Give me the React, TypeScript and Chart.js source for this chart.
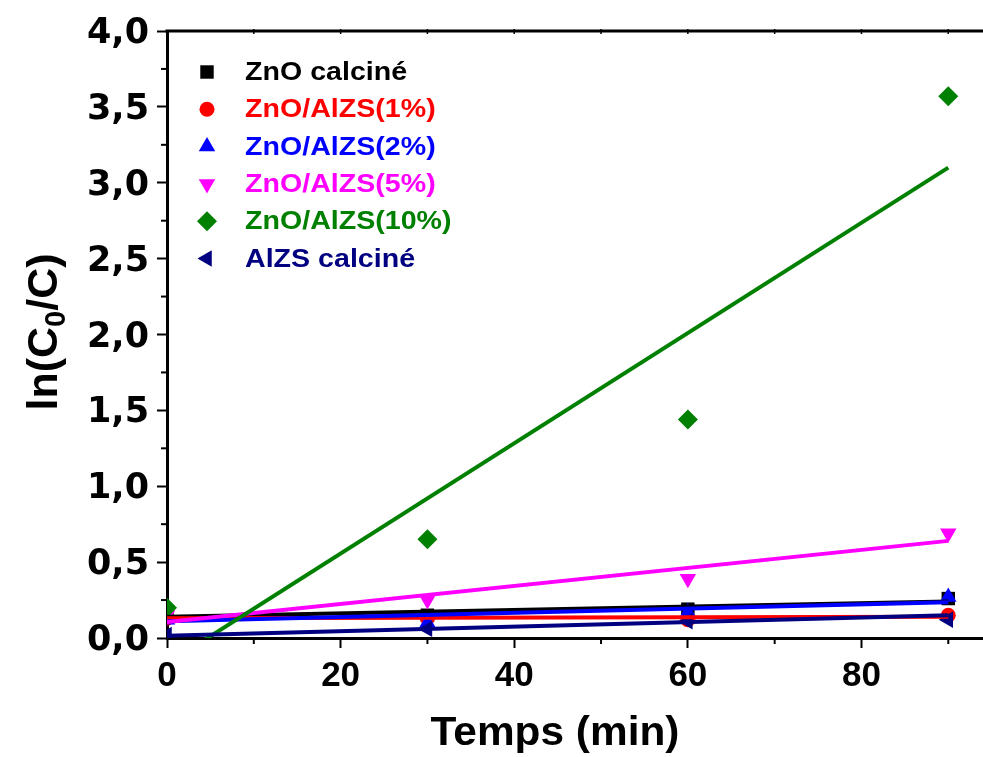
import React, { useEffect, useRef } from 'react';
import { Chart, registerables } from 'chart.js';
import { drawPoint } from 'chart.js/helpers';

Chart.register(...registerables);

// ---- data ----
const times = [0, 30, 60, 90];
const fitTimes = [0, 90];

const seriesLabels = ['ZnO calciné', 'ZnO/AlZS(1%)', 'ZnO/AlZS(2%)', 'ZnO/AlZS(5%)', 'ZnO/AlZS(10%)', 'AlZS calciné'];
const seriesColors = ['#000000', '#FF0000', '#0000FF', '#FF00FF', '#008000', '#000080'];

const znoCalcine = [0.14, 0.15, 0.19, 0.26];
const znoAlzs1 = [0.13, 0.13, 0.12, 0.15];
const znoAlzs2 = [0.12, 0.10, 0.17, 0.27];
const znoAlzs5 = [0.15, 0.25, 0.39, 0.69];
const znoAlzs10 = [0.20, 0.65, 1.44, 3.57];
const alzsCalcine = [0.02, 0.06, 0.11, 0.12];

// fitted straight lines, value at t = 0 and t = 90
const fitZnoCalcine = [0.14, 0.24];
const fitZnoAlzs1 = [0.13, 0.14];
const fitZnoAlzs2 = [0.11, 0.235];
const fitZnoAlzs5 = [0.105, 0.64];
const fitZnoAlzs10 = [-0.17, 3.10];
const fitAlzsCalcine = [0.015, 0.15];

const xTickValues = [0, 20, 40, 60, 80];
const yTickValues = [0, 0.5, 1, 1.5, 2, 2.5, 3, 3.5, 4];

const seriesValues = [znoCalcine, znoAlzs1, znoAlzs2, znoAlzs5, znoAlzs10, alzsCalcine];
const seriesFits = [fitZnoCalcine, fitZnoAlzs1, fitZnoAlzs2, fitZnoAlzs5, fitZnoAlzs10, fitAlzsCalcine];

// marker styles
const markerStyles: any[] = ['rect', 'circle', 'triangle', 'triangle', 'rectRot', 'triangle'];
const markerRotations = [0, 0, 0, 180, 0, 270];
const markerRadius = [9.5, 7.5, 9.5, 9.5, 10, 9.5];
const lineOrders = [6, 5, 4, 3, 2, 1];

const FONT = '"Liberation Sans", Arial, Helvetica, sans-serif';

const decorPlugin = {
  id: 'decor',
  afterDraw(chart: any) {
    const { ctx, chartArea, scales } = chart;
    const x = scales.x;
    const y = scales.y;
    ctx.save();
    ctx.strokeStyle = '#000';
    // minor ticks bottom
    ctx.lineWidth = 2;
    for (let v = 10; v <= x.max; v += 20) {
      const px = x.getPixelForValue(v);
      ctx.beginPath();
      ctx.moveTo(px, chartArea.bottom);
      ctx.lineTo(px, chartArea.bottom + 6);
      ctx.stroke();
    }
    // minor ticks left
    for (let v = 0.25; v < y.max; v += 0.5) {
      const py = y.getPixelForValue(v);
      ctx.beginPath();
      ctx.moveTo(chartArea.left - 6, py);
      ctx.lineTo(chartArea.left, py);
      ctx.stroke();
    }
    // top frame line
    ctx.lineWidth = 3;
    ctx.beginPath();
    ctx.moveTo(chartArea.left - 1.5, chartArea.top);
    ctx.lineTo(chartArea.right, chartArea.top);
    ctx.stroke();
    ctx.lineWidth = 1.5;
    for (let v = 10; v <= x.max; v += 10) {
      const px = x.getPixelForValue(v);
      ctx.beginPath();
      ctx.moveTo(px, chartArea.top - 2);
      ctx.lineTo(px, chartArea.top + 3);
      ctx.stroke();
    }

    // y title with subscript
    ctx.fillStyle = '#000';
    ctx.save();
    ctx.translate(57, 332);
    ctx.rotate(-Math.PI / 2);
    ctx.textBaseline = 'alphabetic';
    ctx.textAlign = 'left';
    const big = `bold 43px ${FONT}`;
    const small = `bold 29px ${FONT}`;
    const p1 = 'ln(C', p2 = '0', p3 = '/C)';
    ctx.font = big;
    const w1 = ctx.measureText(p1).width;
    const w3 = ctx.measureText(p3).width;
    ctx.font = small;
    const w2 = ctx.measureText(p2).width;
    const total = w1 + w2 + w3;
    let cx = -total / 2;
    ctx.font = big;
    ctx.fillText(p1, cx, 0);
    cx += w1;
    ctx.font = small;
    ctx.fillText(p2, cx, 8);
    cx += w2;
    ctx.font = big;
    ctx.fillText(p3, cx, 0);
    ctx.restore();

    // x title
    ctx.save();
    ctx.font = `bold 40px ${FONT}`;
    ctx.textAlign = 'center';
    ctx.textBaseline = 'alphabetic';
    ctx.translate(555, 745);
    ctx.scale(1.06, 1);
    ctx.fillText('Temps (min)', 0, 0);
    ctx.restore();

    // legend
    const scatterSets = chart.data.datasets.filter((d: any) => d.isMarker);
    scatterSets.forEach((d: any, i: number) => {
      const ly = 72 + i * 37.3;
      ctx.fillStyle = d.backgroundColor;
      ctx.strokeStyle = d.backgroundColor;
      drawPoint(ctx, { pointStyle: d.pointStyle, radius: d.pointRadius, rotation: d.rotation, borderWidth: 0 } as any, 207, ly);
      ctx.save();
      ctx.font = `bold 26px ${FONT}`;
      ctx.textAlign = 'left';
      ctx.textBaseline = 'middle';
      ctx.translate(245, ly + 1);
      ctx.scale(1.1, 1);
      ctx.fillText(d.label, 0, 0);
      ctx.restore();
    });
    ctx.restore();
  },
};

export default function App() {
  const ref = useRef<HTMLCanvasElement | null>(null);

  useEffect(() => {
    if (!ref.current) return;
    const datasets: any[] = [];
    seriesLabels.forEach((label, i) => {
      datasets.push({
        label,
        isMarker: true,
        data: times.map((t, j) => ({ x: t, y: seriesValues[i][j] })),
        pointStyle: markerStyles[i],
        rotation: markerRotations[i],
        pointRadius: markerRadius[i],
        backgroundColor: seriesColors[i],
        borderColor: seriesColors[i],
        borderWidth: 0,
        showLine: false,
        clip: 0,
        order: 100 - i,
      });
    });
    seriesLabels.forEach((label, i) => {
      datasets.push({
        label: label + ' (fit)',
        isMarker: false,
        data: fitTimes.map((t, j) => ({ x: t, y: seriesFits[i][j] })),
        showLine: true,
        pointRadius: 0,
        borderColor: seriesColors[i],
        backgroundColor: seriesColors[i],
        borderWidth: 4,
        fill: false,
        clip: 0,
        order: lineOrders[i],
      });
    });

    const chart = new Chart(ref.current, {
      type: 'scatter',
      data: { datasets },
      options: {
        animation: false,
        responsive: true,
        maintainAspectRatio: false,
        layout: { autoPadding: false, padding: { top: 31, right: 0, left: 0, bottom: 0 } },
        plugins: { legend: { display: false }, tooltip: { enabled: false } },
        scales: {
          x: {
            type: 'linear',
            min: 0,
            max: 94,
            afterFit: (s: any) => { s.height = 119; },
            afterBuildTicks: (s: any) => { s.ticks = xTickValues.map((v) => ({ value: v })); },
            ticks: {
              autoSkip: false,
              color: '#000',
              padding: 7,
              maxRotation: 0,
              font: { family: FONT, size: 35, weight: 'bold' },
            },
            grid: { display: true, drawOnChartArea: false, drawTicks: true, tickLength: 10, tickWidth: 2, tickColor: '#000' },
            border: { display: true, color: '#000', width: 3 },
          },
          y: {
            type: 'linear',
            min: 0,
            max: 4,
            afterFit: (s: any) => { s.width = 167; },
            afterBuildTicks: (s: any) => { s.ticks = yTickValues.map((v) => ({ value: v })); },
            ticks: {
              color: '#000',
              padding: 8,
              labelOffset: 3,
              font: { family: '"DejaVu Sans", sans-serif', size: 35, weight: 'bold' },
              callback: (v: any) => Number(v).toFixed(1).replace('.', ','),
            },
            grid: { display: true, drawOnChartArea: false, drawTicks: true, tickLength: 10, tickWidth: 2, tickColor: '#000' },
            border: { display: true, color: '#000', width: 3 },
          },
        },
      },
      plugins: [decorPlugin],
    });
    return () => chart.destroy();
  }, []);

  return (
    <div style={{ position: 'absolute', left: 0, top: 0, width: 983, height: 757, background: '#fff' }}>
      <canvas ref={ref} />
    </div>
  );
}
